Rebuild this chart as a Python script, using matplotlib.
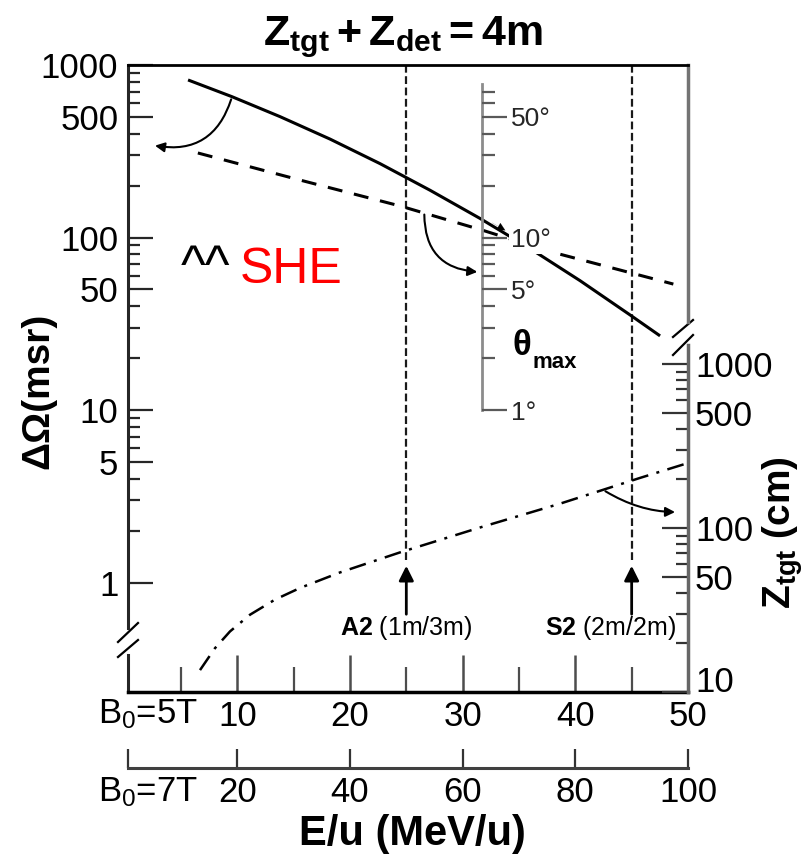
import matplotlib
matplotlib.use("Agg")
import matplotlib.pyplot as plt
from matplotlib.ticker import FixedLocator, FuncFormatter

plt.rcParams['font.family'] = ['Liberation Sans', 'DejaVu Sans']
plt.rcParams['mathtext.fontset'] = 'custom'
plt.rcParams['mathtext.rm'] = 'Liberation Sans'
plt.rcParams['mathtext.it'] = 'Liberation Sans:italic'
plt.rcParams['mathtext.bf'] = 'Liberation Sans:bold'

# Solid-angle acceptance (left axis, msr) vs E/u at B0 = 5T
energy_solid = [5.63, 9.53, 13.79, 18.23, 22.67, 27.10, 31.54, 35.98, 40.42, 44.85, 47.52]
domega_solid = [819, 655, 502, 372, 268, 188, 129, 86.3, 56.2, 35.6, 26.9]

# Maximum angle (theta axis, degrees)
energy_theta = [6.5, 15.6, 24.5, 31.8, 37.9, 48.7]
theta_max_deg = [30.9, 21.5, 15.2, 11.0, 8.24, 5.37]

# Target distance (right axis, cm)
energy_ztgt = [6.69, 8.02, 9.35, 11.13, 13.35, 15.57, 19.12, 24.44, 31.54, 38.64, 45.74, 50.0]
ztgt_cm = [13.6, 18.5, 23.4, 29.6, 36.6, 43.1, 53.6, 71.0, 100.7, 140.7, 202, 249]

# Spectrometer configurations marked on the energy axis
config_energy = [25, 45]
config_name = ["A2", "S2"]
config_geom = ["(1m/3m)", "(2m/2m)"]

x_ticks_5T = [10, 20, 30, 40, 50]
x_minor_5T = [5, 15, 25, 35, 45]
x_ticks_7T = [20, 40, 60, 80, 100]
domega_ticks = [1, 5, 10, 50, 100, 500, 1000]
theta_ticks = [1, 5, 10, 50]
ztgt_ticks = [10, 50, 100, 500, 1000]

W, H = 806, 856
fig = plt.figure(figsize=(W / 100, H / 100), dpi=100)
L, R, T, B = 128, 688, 65, 692
ax = fig.add_axes([L / W, 1 - B / H, (R - L) / W, (B - T) / H])

xlim = (0.3, 50)
ax.set_xlim(*xlim)
ax.set_yscale('log')
ax.set_ylim(10 ** (3 - (B - T) / 172.5), 1000)

ax_th = ax.twinx()
ax_th.set_yscale('log')
ax_th.set_ylim(ax.get_ylim()[0] / 10, 100)

ax_z = ax.twinx()
ax_z.set_yscale('log')
ax_z.set_ylim(10, 10 ** (1 + (B - T) / 164))

# ---- curves
ax.plot(energy_solid, domega_solid, color='k', lw=2.2, solid_capstyle='butt', zorder=2)
ax_th.plot(energy_theta, theta_max_deg, color='k', lw=2.2, ls=(0, (4.9, 3.9)), zorder=2)
ax_z.plot(energy_ztgt, ztgt_cm, color='k', lw=1.8, ls=(0, (6.8, 3.4, 1.2, 3.4)), zorder=2)

# ---- spines
for a in (ax_th, ax_z):
    for s in ('left', 'top', 'bottom'):
        a.spines[s].set_visible(False)
ax.spines['top'].set_linewidth(2)
ax.spines['bottom'].set_linewidth(2.5)
ax.spines['left'].set_linewidth(2.2)
ax.spines['left'].set_color('0.15')
ax.spines['left'].set_bounds(0.545, 1000)
ax.spines['right'].set_bounds(32.4, 1000)
ax.spines['right'].set_color('0.45')
ax.spines['right'].set_linewidth(2.5)

ax_th.spines['right'].set_position(('data', 31.7))
ax_th.spines['right'].set_bounds(1, 78)
ax_th.spines['right'].set_color('0.55')
ax_th.spines['right'].set_linewidth(2)

ax_z.spines['right'].set_bounds(10, 1306)
ax_z.spines['right'].set_color('0.4')
ax_z.spines['right'].set_linewidth(2.5)

# lower stub of the broken left axis and the break marks
def px(xp, yp):
    return ((xp - L) / (R - L), (B - yp) / (B - T))

tr = ax.transAxes
x0, y0 = px(128, 655)
ax.plot([x0, x0], [0, y0], transform=tr, color='0.15', lw=2.2, clip_on=False)
for (xa, ya, xb, yb) in [(118, 642, 138, 623), (118, 657, 138, 640),
                         (673, 337, 693, 320), (673, 355, 693, 335)]:
    p1, p2 = px(xa, ya), px(xb, yb)
    ax.plot([p1[0], p2[0]], [p1[1], p2[1]], transform=tr, color='k', lw=1.6, clip_on=False)

# ---- ticks
fmt = FuncFormatter(lambda v, _: f"{v:g}")
ax.yaxis.set_major_locator(FixedLocator(domega_ticks))
ax.yaxis.set_minor_locator(FixedLocator([k * 10 ** d for d in range(3) for k in (2, 3, 4, 6, 7, 8, 9)]))
ax.yaxis.set_major_formatter(fmt)
ax.yaxis.set_minor_formatter(FuncFormatter(lambda v, _: ""))
ax.tick_params(axis='y', which='both', direction='in', right=False, left=True,
               labelsize=25, pad=7, color='0.15')
ax.tick_params(axis='y', which='major', length=18, width=1.6)
ax.tick_params(axis='y', which='minor', length=8.6, width=1.6)

ax.xaxis.set_major_locator(FixedLocator(x_ticks_5T))
ax.xaxis.set_minor_locator(FixedLocator(x_minor_5T))
ax.tick_params(axis='x', which='both', direction='in', top=False, labelsize=25, pad=6, color='0.3')
ax.tick_params(axis='x', which='major', length=27, width=1.8)
ax.tick_params(axis='x', which='minor', length=18, width=1.6)

ax_th.yaxis.set_major_locator(FixedLocator(theta_ticks))
ax_th.yaxis.set_minor_locator(FixedLocator([2, 3, 4, 6, 7, 8, 9, 20, 30, 40, 60, 70]))
ax_th.yaxis.set_major_formatter(FuncFormatter(lambda v, _: f"{v:g}°"))
ax_th.yaxis.set_minor_formatter(FuncFormatter(lambda v, _: ""))
ax_th.tick_params(axis='y', which='both', direction='out', labelsize=19, pad=3,
                  color='0.35', labelcolor='0.15')
ax_th.tick_params(axis='y', which='major', length=18, width=1.6)
ax_th.tick_params(axis='y', which='minor', length=9, width=1.6)
ax_th.set_axisbelow(False)
for lab in ax_th.yaxis.get_majorticklabels():
    lab.set_bbox(dict(facecolor='white', edgecolor='none', pad=1.5))

ax_z.yaxis.set_major_locator(FixedLocator(ztgt_ticks))
ax_z.yaxis.set_minor_locator(FixedLocator([k * 10 ** d for d in (1, 2) for k in (2, 3, 4, 6, 7, 8, 9)]))
ax_z.yaxis.set_major_formatter(fmt)
ax_z.yaxis.set_minor_formatter(FuncFormatter(lambda v, _: ""))
ax_z.tick_params(axis='y', which='both', direction='in', labelsize=25, pad=5, color='0.2')
ax_z.tick_params(axis='y', which='major', length=19, width=1.6)
ax_z.tick_params(axis='y', which='minor', length=8.6, width=1.6)
# the lowest label sits just above the corner, clear of the energy labels
ax_z.yaxis.get_majorticklabels()[0].set_verticalalignment('baseline')

# second energy scale for B0 = 7T
sec = ax.secondary_xaxis(-(768 - B) / (B - T), functions=(lambda x: 2 * x, lambda x: x / 2))
sec.set_xticks(x_ticks_7T)
sec.set_xticks([2 * xlim[0]], minor=True)
sec.tick_params(which='both', direction='in', length=14, width=1.6, labelsize=25, pad=6, color='0.2')
sec.spines['bottom'].set_linewidth(2.2)
sec.spines['bottom'].set_color('0.25')

# ---- configuration markers
xt = ax.get_xaxis_transform()
y_line_end = (B - 560) / (B - T)
y_arrow_tail = (B - 617) / (B - T)
y_arrow_tip = (B - 563) / (B - T)
y_label = (B - 628) / (B - T)
for i, (e, name, geom) in enumerate(zip(config_energy, config_name, config_geom)):
    ax.plot([e, e], [y_line_end, 1], transform=xt, color='0.1', lw=1.6,
            ls=(0, (3.5, 1.6)), zorder=1)
    ax.annotate('', xy=(e, y_arrow_tip), xytext=(e, y_arrow_tail), xycoords=xt,
                arrowprops=dict(arrowstyle='-|>', color='k', lw=2.0, mutation_scale=22))
    label = rf"$\mathbf{{{name}}}$ {geom}"
    if i == len(config_energy) - 1:
        ax.text(1 - 12 / (R - L), y_label, label, transform=tr, ha='right', va='center', fontsize=18)
    else:
        ax.text(e, y_label, label, transform=xt, ha='center', va='center', fontsize=18)

# ---- pointer arrows from curves to their axes
arrow_kw = dict(arrowstyle='-|>', color='k', lw=1.5, mutation_scale=14)
ax.annotate('', xy=(2.45, 343), xytext=(9.53, 655),
            arrowprops=dict(connectionstyle='arc3,rad=-0.45', **arrow_kw))
ax_th.annotate('', xy=(31.55, 6.3), xytext=(26.6, 14.1),
               arrowprops=dict(connectionstyle='arc3,rad=0.48', **arrow_kw))
ax_z.annotate('', xy=(49.1, 125), xytext=(42.46, 171),
              arrowprops=dict(connectionstyle='angle3,angleA=-32,angleB=0', **arrow_kw))
ax.annotate('', xy=(34.0, 108), xytext=(32.4, 124),
            arrowprops=dict(arrowstyle='-|>', color='k', lw=0.1, mutation_scale=14), zorder=6)

# ---- texts
fig.text(403 / W, 1 - 37 / H, r"$\mathbf{Z_{tgt} + Z_{det} = 4m}$", fontsize=31,
         ha='center', va='center')
fig.text(38 / W, 1 - 391 / H, "ΔΩ(msr)", fontsize=28, fontweight='bold',
         rotation=90, ha='center', va='center')
fig.text(783 / W, 1 - 533 / H, r"$\mathbf{Z_{tgt}}$ (cm)", fontsize=28, fontweight='bold',
         rotation=90, ha='center', va='center')
fig.text(412 / W, 1 - 834 / H, "E/u (MeV/u)", fontsize=30, fontweight='bold',
         ha='center', va='center')
fig.text(98 / W, 1 - 714 / H, r"B$_\mathrm{0}$=5T", fontsize=25, ha='left', va='center')
fig.text(98 / W, 1 - 792 / H, r"B$_\mathrm{0}$=7T", fontsize=25, ha='left', va='center')
fig.text(513 / W, 1 - 355 / H, "θ", fontsize=25, fontweight='bold', ha='left', va='baseline')
fig.text(533 / W, 1 - 368 / H, "max", fontsize=16, fontweight='bold', ha='left', va='baseline')
fig.text(181 / W, 1 - 283 / H, "^^", fontsize=38, color='k', ha='left', va='baseline')
fig.text(240 / W, 1 - 283 / H, "SHE", fontsize=36, color='red', ha='left', va='baseline')

fig.savefig("out.png", dpi=100)
